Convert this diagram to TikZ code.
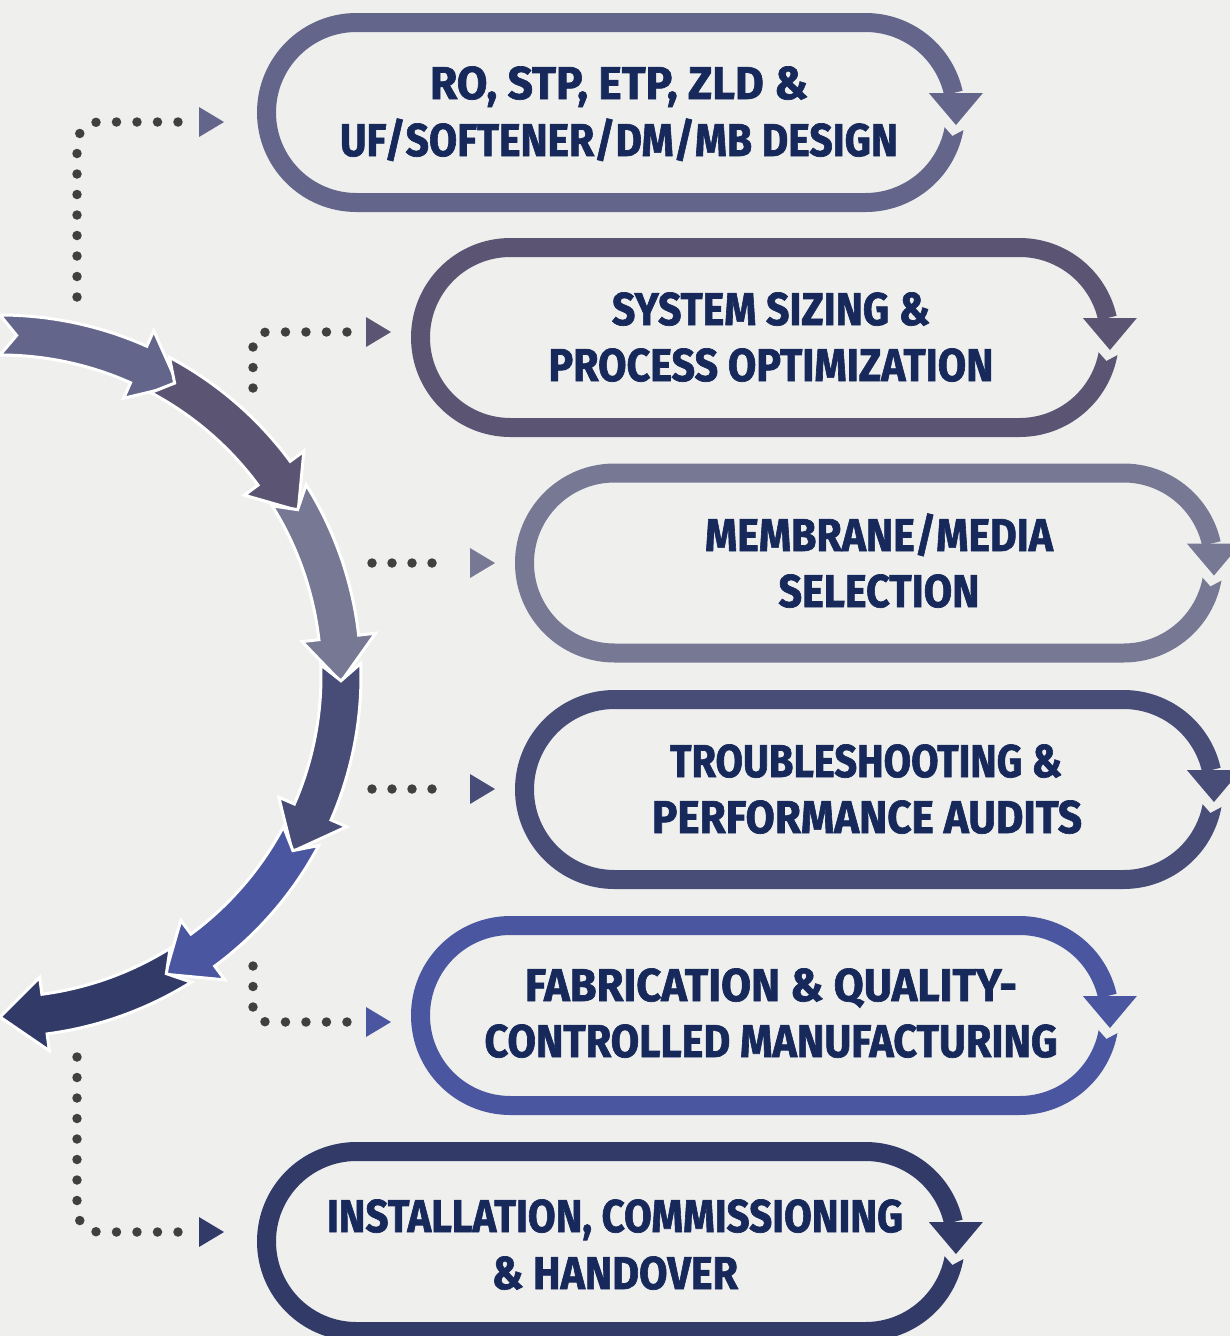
\documentclass[tikz,border=0pt]{standalone}
\usepackage{fontspec}
\usepackage{graphicx}
\newfontfamily\pillfont{Fira Sans}[BoldFeatures={FakeBold=1.5}]
\definecolor{bg}{HTML}{EFEFEE}
\definecolor{cA}{HTML}{63668A}
\definecolor{cB}{HTML}{5B5573}
\definecolor{cC}{HTML}{767894}
\definecolor{cD}{HTML}{484D77}
\definecolor{cE}{HTML}{4B56A0}
\definecolor{cF}{HTML}{323B68}
\definecolor{txt}{HTML}{16295A}
\definecolor{dotc}{HTML}{404040}
\tikzset{
  pillline/.style={line width=19pt},
  pilltext/.style={anchor=base, inner sep=0pt, text=txt, font=\pillfont\bfseries\fontsize{46}{46}\selectfont},
  dotline/.style={draw=dotc, line width=9.5pt, line cap=round, dash pattern=on 0pt off 20.5pt},
  dotstraight/.style={draw=dotc, line width=9.5pt, line cap=round, dash pattern=on 0pt off 20pt},
  segshape/.style={draw=white, line width=3pt},
}
% pill: #1 left centre x, #2 centre y (pixels, downwards), #3 colour, #4 name
\newcommand\PillShape[4]{%
\begin{scope}[shift={(#1,-#2)}]
  \coordinate (#4) at (254.5,0);
  \draw[pillline, #3] ([shift={(509,0)}]-9.5:90) arc[start angle=-9.5, end angle=-90, radius=90]
     -- (0,-90) arc[start angle=270, end angle=90, radius=90]
     -- (509,90) arc[start angle=90, end angle=12.5, radius=90];
  \fill[bg] ([shift={(509,0)}]-9:78) -- ([shift={(509,0)}]-9:102) -- ([shift={(509,0)}]-15:90) -- cycle;
  \coordinate (#4e) at ([shift={(509,0)}]12.5:90);
  \fill[#3] ([xshift=-24.5pt]#4e) -- ([xshift=29.5pt]#4e) -- ([shift={(2.6,-32)}]#4e) -- cycle;
\end{scope}}
% arc segment: #1 tail angle, #2 tip angle, #3 colour
\newcommand\ArcSeg[3]{%
  \filldraw[segshape, fill=#3] (#1:361) arc[start angle=#1, end angle={#2+7.5}, radius=361]
    -- ({#2+7.5}:378) -- (#2:341) -- ({#2+7.5}:304) -- ({#2+7.5}:321)
    arc[start angle={#2+7.5}, end angle=#1, radius=321] -- ({#1-2.8}:341) -- cycle;}
\begin{document}
\begin{tikzpicture}[x=1pt,y=1pt]
\useasboundingbox (0,0) rectangle (1230,-1336);
\clip (0,0) rectangle (1230,-1336);
\fill[bg] (0,0) rectangle (1230,-1336);

% big segmented arc
\begin{scope}[shift={(0,-676)}]
  \ArcSeg{90}{58.5}{cA}
  \ArcSeg{62}{29}{cB}
  \ArcSeg{32}{-1}{cC}
  \ArcSeg{2}{-31}{cD}
  \ArcSeg{-28}{-61}{cE}
  \ArcSeg{-58}{-90}{cF}
\end{scope}

% pills
\PillShape{356.5}{112.5}{cA}{p1}
\PillShape{510.5}{337.5}{cB}{p2}
\PillShape{614.5}{563}{cC}{p3}
\PillShape{614.5}{789.5}{cD}{p4}
\PillShape{510.5}{1015.5}{cE}{p5}
\PillShape{356.5}{1241.5}{cF}{p6}

% triangles
\coordinate (t1) at (199,-122);
\coordinate (t2) at (366,-332);
\coordinate (t3) at (470,-563);
\coordinate (t4) at (470,-789);
\coordinate (t5) at (366,-1022);
\coordinate (t6) at (199,-1232);
\fill[cA] ([yshift=15pt]t1) -- ([xshift=25pt]t1) -- ([yshift=-15pt]t1) -- cycle;
\fill[cB] ([yshift=15pt]t2) -- ([xshift=25pt]t2) -- ([yshift=-15pt]t2) -- cycle;
\fill[cC] ([yshift=15pt]t3) -- ([xshift=25pt]t3) -- ([yshift=-15pt]t3) -- cycle;
\fill[cD] ([yshift=15pt]t4) -- ([xshift=25pt]t4) -- ([yshift=-15pt]t4) -- cycle;
\fill[cE] ([yshift=15pt]t5) -- ([xshift=25pt]t5) -- ([yshift=-15pt]t5) -- cycle;
\fill[cF] ([yshift=15pt]t6) -- ([xshift=25pt]t6) -- ([yshift=-15pt]t6) -- cycle;

% dotted connectors
\coordinate (d1) at (77,-297);
\coordinate (d2) at (253,-388);
\coordinate (d3) at (372,-563);
\coordinate (d4) at (372,-789);
\coordinate (d5) at (253,-966);
\coordinate (d6) at (77,-1057);
\draw[dotline, rounded corners=22pt] (d1) |- ([xshift=-21pt]t1);
\draw[dotline, rounded corners=15pt] (d2) |- ([xshift=-19pt]t2);
\draw[dotstraight] (d3) -- ([xshift=-18pt]t3);
\draw[dotstraight] (d4) -- ([xshift=-18pt]t4);
\draw[dotline, rounded corners=15pt] (d5) |- ([xshift=-19pt]t5);
\draw[dotline, rounded corners=22pt] (d6) |- ([xshift=-21pt]t6);

% texts
\node[pilltext] (p1a) at (619,-99)   {\resizebox{378pt}{\height}{RO, STP, ETP, ZLD \&}};
\node[pilltext] (p1b) at (619,-156)  {\resizebox{558pt}{\height}{UF/SOFTENER/DM/MB DESIGN}};
\node[pilltext] (p2a) at (771,-325)  {\resizebox{318pt}{\height}{SYSTEM SIZING \&}};
\node[pilltext] (p2b) at (771,-381)  {\resizebox{445pt}{\height}{PROCESS OPTIMIZATION}};
\node[pilltext] (p3a) at (879,-551)  {\resizebox{348pt}{\height}{MEMBRANE/MEDIA}};
\node[pilltext] (p3b) at (879,-607)  {\resizebox{201pt}{\height}{SELECTION}};
\node[pilltext] (p4a) at (866,-777)  {\resizebox{392pt}{\height}{TROUBLESHOOTING \&}};
\node[pilltext] (p4b) at (867,-833)  {\resizebox{430pt}{\height}{PERFORMANCE AUDITS}};
\node[pilltext] (p5a) at (771,-1001) {\resizebox{492pt}{\height}{FABRICATION \& QUALITY-}};
\node[pilltext] (p5b) at (771,-1057) {\resizebox{573pt}{\height}{CONTROLLED MANUFACTURING}};
\node[pilltext] (p6a) at (615,-1232) {\resizebox{576pt}{\height}{INSTALLATION, COMMISSIONING}};
\node[pilltext] (p6b) at (615,-1289) {\resizebox{246pt}{\height}{\& HANDOVER}};
\end{tikzpicture}
\end{document}
